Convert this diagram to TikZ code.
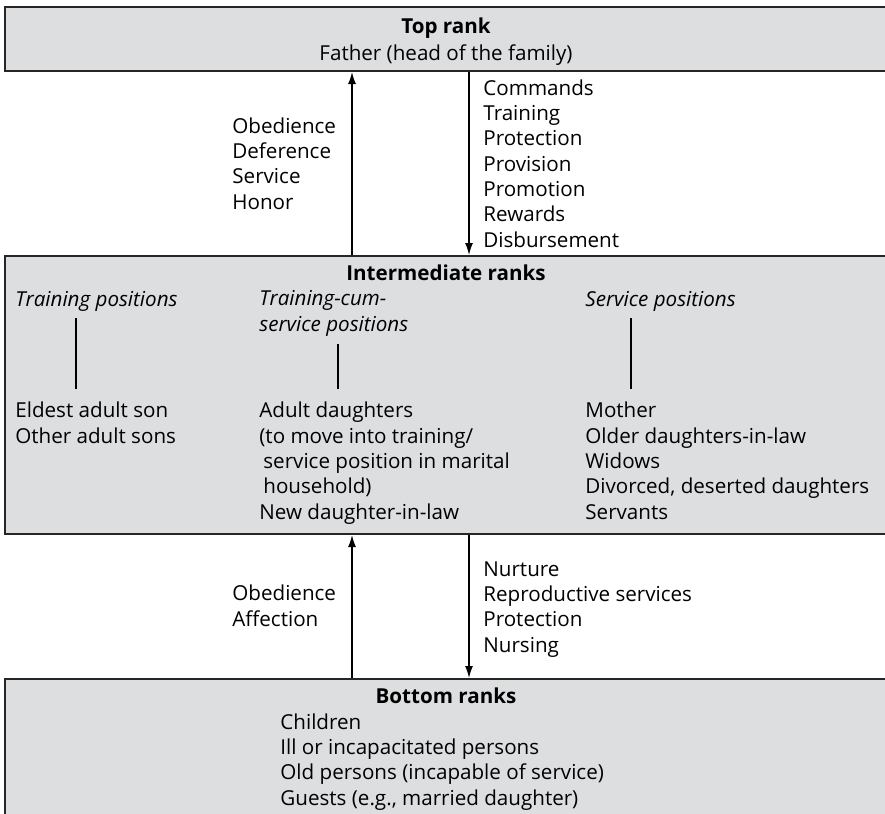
\documentclass[tikz,border=0pt]{standalone}
\usepackage{fontspec}
\setmainfont{Open Sans}
\usetikzlibrary{arrows.meta}

\definecolor{rankgray}{RGB}{221,222,223}
\newcommand{\rankfont}{\fontsize{10.3}{12.65}\selectfont}

\begin{document}
\begin{tikzpicture}[x=0.5pt, y=-0.5pt, every node/.style={font=\rankfont, inner sep=0pt},
    rankbox/.style={draw=black!85, line width=1pt, fill=rankgray, anchor=north west},
    flow/.style={-{Latex[length=6pt,width=4pt]}, line width=0.7pt},
    list/.style={align=left, anchor=base west},
    head/.style={font=\rankfont\bfseries, anchor=base},
    poshead/.style={list, font=\rankfont\itshape}]

    \useasboundingbox (0,0) rectangle (885,814);

    % Rank boxes (lists below are placed by the baseline of their last line)
    \node[rankbox, minimum width=446pt, minimum height=32pt] (top) at (4,6) {};
    \node[rankbox, minimum width=446pt, minimum height=139pt] (mid) at (4,255) {};
    \node[rankbox, minimum width=446pt, minimum height=80pt] (bot) at (4,678) {};

    \coordinate (upx) at (352,0);
    \coordinate (dnx) at (469,0);

    % Top rank
    \node[head] (toptitle) at (446,33) {Top rank};
    \node[anchor=base] (father) at (446,60) {Father (head of the family)};

    % Between top and intermediate
    \draw[flow] (mid.north -| upx) -- (top.south -| upx);
    \draw[flow] (top.south -| dnx) -- (mid.north -| dnx);
    \node[list] (upgive) at (232,209) {Obedience\\Deference\\Service\\Honor};
    \node[list] (downgive) at (483,247) {Commands\\Training\\Protection\\Provision\\Promotion\\Rewards\\Disbursement};

    % Intermediate ranks
    \node[head] (midtitle) at (446,280) {Intermediate ranks};
    \node[poshead] (trainhd) at (15,306) {Training positions};
    \node[poshead] (cumhd) at (259,331) {Training-cum-\\service positions};
    \node[poshead] (servhd) at (585,306) {Service positions};

    \coordinate (traintop) at (76,318);
    \coordinate (trainbot) at (76,389);
    \coordinate (cumtop) at (338,344);
    \coordinate (cumbot) at (338,389);
    \coordinate (servtop) at (631,318);
    \coordinate (servbot) at (631,389);
    \draw[line width=0.7pt] (traintop) -- (trainbot);
    \draw[line width=0.7pt] (cumtop) -- (cumbot);
    \draw[line width=0.7pt] (servtop) -- (servbot);

    \node[list] (trainlist) at (15,443) {Eldest adult son\\Other adult sons};
    \node[list] (cumlist) at (259,519) {Adult daughters\\(to move into training/\\\hspace*{2pt}service position in marital\\\hspace*{2pt}household)\\New daughter-in-law};
    \node[list] (servlist) at (585,519) {Mother\\Older daughters-in-law\\Widows\\Divorced, deserted daughters\\Servants};

    % Between intermediate and bottom
    \draw[flow] (bot.north -| upx) -- (mid.south -| upx);
    \draw[flow] (mid.south -| dnx) -- (bot.north -| dnx);
    \node[list] (upcare) at (232,626) {Obedience\\Affection};
    \node[list] (downcare) at (483,652) {Nurture\\Reproductive services\\Protection\\Nursing};

    % Bottom ranks
    \node[head] (bottitle) at (446,703) {Bottom ranks};
    \node[list] (botlist) at (280,805) {Children\\Ill or incapacitated persons\\Old persons (incapable of service)\\Guests (e.g., married daughter)};

\end{tikzpicture}
\end{document}
